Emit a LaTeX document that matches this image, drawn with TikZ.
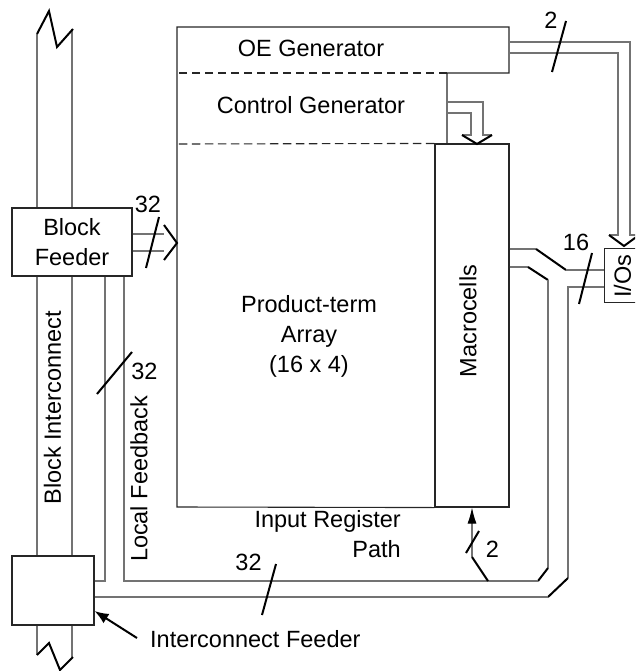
\documentclass[tikz,border=0pt]{standalone}
\usepackage{fontspec}
\setmainfont{Liberation Sans}
\usetikzlibrary{arrows.meta,calc}
\newcommand\lblfont{\fontsize{23.5}{30}\selectfont}
\tikzset{
  bus/.style={draw=black!55, line width=1.1pt},
  bendline/.style={draw=black, line width=2pt},
  slashmark/.style={draw=black, line width=2pt},
  box/.style={draw=black!85, line width=1.1pt},
  dashbox/.style={draw=black!85, line width=1.1pt, dash pattern=on 8.5pt off 4.5pt},
  lbl/.style={font=\lblfont, inner sep=0pt},
}
\begin{document}
\begin{tikzpicture}[x=1pt,y=-1pt]
\useasboundingbox (0,0) rectangle (635,671);
\clip (0,0) rectangle (635,671);

% ---- boxes ----
\node[box, minimum width=120pt, minimum height=68pt, inner sep=0pt] (bf) at (72,242) {};
\node[lbl, align=center] (bftext) at (72,242.5) {Block\\Feeder};
\node[box, minimum width=82pt, minimum height=69pt, inner sep=0pt] (icf) at (53,590.5) {};
\node[box, minimum width=74pt, minimum height=363pt, inner sep=0pt] (mc) at (472,325.5) {};
\node[box, minimum width=40pt, minimum height=54pt, inner sep=0pt, anchor=north west] (io) at (604,248) {};

% main outline
\draw[box] (mc.south west) -- (177,507) -- (177,27) -- (509,27) -- (509,73) -- (447,73) -- (447,144);
\draw[dashbox] (447,73) -- (177,73);
\draw[dashbox] (mc.north west) -- (177,144);

% ---- texts ----
\node[lbl] (oe) at (311,48.5) {OE Generator};
\node[lbl] (cg) at (311,105.5) {Control Generator};
\node[lbl, align=center] (pta) at (309,336) {Product-term\\Array\\(16 x 4)};
\node[lbl, rotate=90] (mctext) at (468,321) {Macrocells};
\node[lbl, rotate=90] (iotext) at (622.5,276) {I/Os};
\node[lbl, rotate=90] (bitext) at (52.5,408) {Block Interconnect};
\node[lbl, rotate=90] (lftext) at (139,479) {Local Feedback};
\node[lbl, align=right, anchor=east] (irp) at (401,534.5) {Input Register\\Path};
\node[lbl, anchor=west] (icftext) at (150,639.5) {Interconnect Feeder};

\node[lbl] (n32a) at (148,204) {32};
\node[lbl] (n32b) at (144.5,371.5) {32};
\node[lbl] (n32c) at (248.5,562) {32};
\node[lbl] (n2a) at (551,20.5) {2};
\node[lbl] (n16) at (576,242.5) {16};
\node[lbl] (n2b) at (492.5,549.5) {2};

% ---- block interconnect ----
\draw[bus] (37,34) -- (bf.north -| 37,0);
\draw[bus] (72,29) -- (bf.north -| 72,0);
\draw[bus] (bf.south -| 37,0) -- (icf.north -| 37,0);
\draw[bus] (bf.south -| 72,0) -- (icf.north -| 72,0);
\draw[bus] (icf.south -| 37,0) -- (37,655);
\draw[bus] (icf.south -| 72,0) -- (72,657);
\draw[bendline] (37,34) -- (49,11) -- (57,47) -- (73,29);
\draw[bendline] (37,655) -- (49,643) -- (60,670) -- (73,657);

% ---- block feeder to array ----
\draw[bus] (bf.east |- 0,234) -- (164,234);
\draw[bus] (bf.east |- 0,251) -- (164,251);
\draw[slashmark] (164,225) -- (177,243) -- (164,260);
\draw[slashmark] (146,268) -- (159,217);

% ---- control generator to macrocells ----
\draw[bus] (447,102) -- (483,102) -- (483,135) -- (492,135);
\draw[bus] (447,113) -- (471,113) -- (471,135) -- (462,135);
\draw[slashmark] (462,135) -- (477,144) -- (492,135);

% ---- OE bus to I/Os ----
\draw[bus] (509,42) -- (630,42) -- (630,235) -- (639,235);
\draw[bus] (509,53) -- (618,53) -- (618,235) -- (609,235);
\draw[slashmark] (609,235) -- (624,246) -- (639,235);
\draw[slashmark] (552,72) -- (566,21);

% ---- macrocells to I/Os and feedback ----
\draw[bus] (mc.east |- 0,249) -- (536,249);
\draw[bendline] (536,249) -- (566,270);
\draw[bus] (566,270) -- (io.west |- 0,270);
\draw[bus] (mc.east |- 0,267) -- (528,267);
\draw[bendline] (528,267) -- (548,280);
\draw[bus] (548,280) -- (548,568);
\draw[bendline] (548,568) -- (538,581);
\draw[bus] (538,581) -- (124,581) -- (bf.south -| 124,0);
\draw[bus] (io.west |- 0,287) -- (568,287) -- (568,578);
\draw[bendline] (568,578) -- (548,597);
\draw[bus] (548,597) -- (icf.east |- 0,597);
\draw[bus] (icf.east |- 0,581) -- (105,581) -- (bf.south -| 105,0);
\draw[slashmark] (579,304) -- (592,253);
\draw[slashmark] (97,394) -- (132,352);
\draw[slashmark] (262,615) -- (276,564);

% ---- input register path ----
\draw[bus, -{Latex[length=16pt,width=9pt,color=black]}] (472,557) -- (mc.south -| 472,0);
\draw[bendline] (472,557) -- (488,581);
\draw[slashmark] (466,553) -- (479,531);

% ---- interconnect feeder pointer ----
\coordinate (ptr) at (137,638);
\draw[bendline, -{Latex[length=14pt,width=11pt]}] (ptr) -- (icf.east |- 0,611);
\end{tikzpicture}
\end{document}
